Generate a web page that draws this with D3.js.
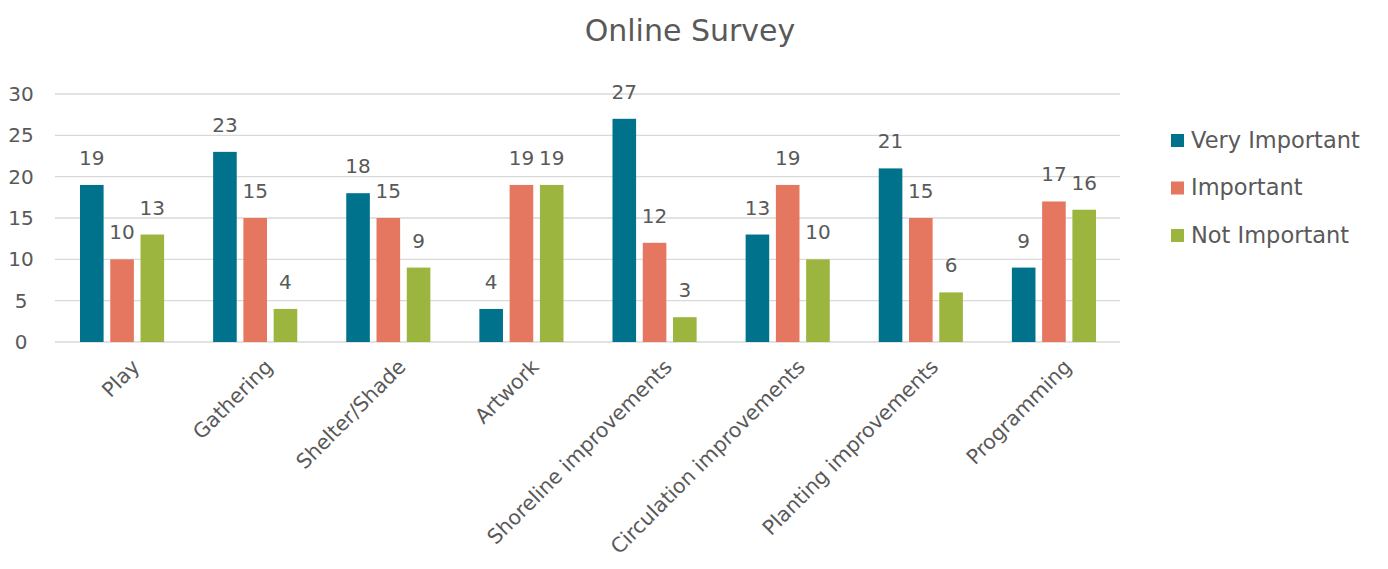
<!DOCTYPE html>
<html>
<head>
<meta charset="utf-8">
<script src="https://cdn.jsdelivr.net/npm/d3@7"></script>
<style>
  body { margin: 0; background: #fff; }
  text { font-family: "DejaVu Sans", sans-serif; fill: #595959; }
</style>
</head>
<body>
<div id="chart"></div>
<script>
// chart data
var categories = ["Play", "Gathering", "Shelter/Shade", "Artwork", "Shoreline improvements",
                  "Circulation improvements", "Planting improvements", "Programming"];
var seriesNames = ["Very Important", "Important", "Not Important"];
var veryImportant = [19, 23, 18, 4, 27, 13, 21, 9];
var important = [10, 15, 15, 19, 12, 19, 15, 17];
var notImportant = [13, 4, 9, 19, 3, 10, 6, 16];
var yTicks = [0, 5, 10, 15, 20, 25, 30];
var colors = ["#00728c", "#e5765f", "#9bb53f"];

var width = 1388, height = 569;
var plotLeft = 55, plotRight = 1120, plotTop = 94, plotBottom = 342;

var svg = d3.select("#chart").append("svg")
    .attr("width", width)
    .attr("height", height);

var xScale = d3.scaleBand()
    .domain(categories)
    .range([plotLeft, plotRight]);

var inner = d3.scaleBand()
    .domain(seriesNames)
    .range([25, xScale.bandwidth() - 24])
    .paddingInner(0.22);

var yScale = d3.scaleLinear()
    .domain([0, 30])
    .range([plotBottom, plotTop]);

// title
svg.append("text")
    .attr("x", 690).attr("y", 41)
    .attr("text-anchor", "middle")
    .style("font-size", "30px")
    .text("Online Survey");

// gridlines
svg.append("g").selectAll("line")
    .data(yTicks)
    .enter().append("line")
    .attr("x1", plotLeft).attr("x2", plotRight)
    .attr("y1", function(d) { return yScale(d); })
    .attr("y2", function(d) { return yScale(d); })
    .style("stroke", "#d9d9d9")
    .style("stroke-width", 1.3);

// y axis labels
var yAxis = d3.axisLeft(yScale).tickValues(yTicks).tickSize(0).tickPadding(0);
svg.append("g")
    .attr("transform", "translate(21,0)")
    .call(yAxis)
    .call(function(g) { g.select(".domain").remove(); })
    .selectAll("text")
    .attr("text-anchor", "middle")
    .style("font-size", "20px")
    .style("font-family", "DejaVu Sans, sans-serif")
    .attr("fill", "#595959");

// bars
var rows = categories.map(function(c, i) {
  return { cat: c, vals: [veryImportant[i], important[i], notImportant[i]] };
});

var groups = svg.append("g").selectAll("g")
    .data(rows)
    .enter().append("g")
    .attr("transform", function(d) { return "translate(" + xScale(d.cat) + ",0)"; });

groups.selectAll("rect")
    .data(function(d) { return d.vals.map(function(v, j) { return { s: seriesNames[j], v: v, j: j }; }); })
    .enter().append("rect")
    .attr("x", function(d) { return inner(d.s); })
    .attr("y", function(d) { return yScale(d.v); })
    .attr("width", inner.bandwidth())
    .attr("height", function(d) { return yScale(0) - yScale(d.v); })
    .style("fill", function(d) { return colors[d.j]; });

groups.selectAll("text.lbl")
    .data(function(d) { return d.vals.map(function(v, j) { return { s: seriesNames[j], v: v, j: j }; }); })
    .enter().append("text")
    .attr("class", "lbl")
    .attr("x", function(d) { return inner(d.s) + inner.bandwidth() / 2; })
    .attr("y", function(d) { return yScale(d.v) - 20; })
    .attr("text-anchor", "middle")
    .style("font-size", "20px")
    .text(function(d) { return d.v; });

// x axis labels, rotated
svg.append("g").selectAll("text")
    .data(categories)
    .enter().append("text")
    .attr("transform", function(d) {
      return "translate(" + (xScale(d) + xScale.bandwidth() / 2 + 9) + ",358) rotate(-45)";
    })
    .attr("text-anchor", "end")
    .attr("dy", "0.7em")
    .style("font-size", "20.5px")
    .text(function(d) { return d; });

// legend
var legend = svg.append("g").selectAll("g")
    .data(seriesNames)
    .enter().append("g")
    .attr("transform", function(d, i) { return "translate(1171," + (140 + i * 47.5) + ")"; });

legend.append("rect")
    .attr("x", 0).attr("y", -6)
    .attr("width", 13).attr("height", 13)
    .style("fill", function(d, i) { return colors[i]; });

legend.append("text")
    .attr("x", 20).attr("y", 0)
    .attr("dy", "0.35em")
    .style("font-size", "22.5px")
    .text(function(d) { return d; });
</script>
</body>
</html>
